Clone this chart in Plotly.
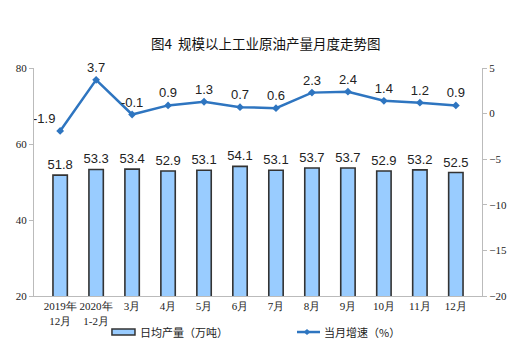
import plotly.graph_objects as go

categories = ["2019年<br>12月", "2020年<br>1-2月", "3月", "4月", "5月", "6月", "7月", "8月", "9月", "10月", "11月", "12月"]
output = [51.8, 53.3, 53.4, 52.9, 53.1, 54.1, 53.1, 53.7, 53.7, 52.9, 53.2, 52.5]
growth = [-1.9, 3.7, -0.1, 0.9, 1.3, 0.7, 0.6, 2.3, 2.4, 1.4, 1.2, 0.9]
left_ticks = [20, 40, 60, 80]
right_ticks = [-20, -15, -10, -5, 0, 5]
bar_name = "日均产量（万吨）"
line_name = "当月增速（%）"

cjk = "Noto Sans CJK SC"
bar_fill = "#99CCFF"
bar_edge = "#333333"
line_col = "#2E75C0"

line_text_pos = ["top center"] * len(growth)
line_text_pos[0] = "top left"

fig = go.Figure()
fig.add_trace(go.Bar(
    x=categories, y=output, name=bar_name,
    marker=dict(color=bar_fill, line=dict(color=bar_edge, width=1.6)),
    width=0.4,
    text=[f"{v:.1f}" for v in output], textposition="outside", constraintext="none",
    textfont=dict(family="Liberation Sans", size=13, color="#222222"),
    cliponaxis=False,
))
fig.add_trace(go.Scatter(
    x=categories, y=growth, name=line_name, yaxis="y2",
    mode="lines+markers+text",
    line=dict(color=line_col, width=2.5),
    marker=dict(symbol="diamond", size=6, color=line_col),
    text=[f"{v:.1f}" for v in growth], textposition=line_text_pos,
    textfont=dict(family="Liberation Sans", size=13, color="#222222"),
    cliponaxis=False,
))

# manual legend (paper coordinates)
shapes = [
    dict(type="rect", xref="paper", yref="paper", x0=0.174, x1=0.2254, y0=-0.171, y1=-0.1447,
         fillcolor=bar_fill, line=dict(color=bar_edge, width=1.5)),
    dict(type="line", xref="paper", yref="paper", x0=0.587, x1=0.6384, y0=-0.158, y1=-0.158,
         line=dict(color=line_col, width=2.5)),
    dict(type="path", xref="paper", yref="paper",
         path="M 0.6094 -0.145 L 0.6169 -0.158 L 0.6094 -0.171 L 0.6019 -0.158 Z",
         fillcolor=line_col, line=dict(color=line_col, width=0)),
]
annotations = [
    dict(text=bar_name, xref="paper", yref="paper", x=0.232, y=-0.158, xanchor="left", yanchor="middle",
         showarrow=False, font=dict(family=cjk, size=11, color="#222222")),
    dict(text=line_name, xref="paper", yref="paper", x=0.643, y=-0.158, xanchor="left", yanchor="middle",
         showarrow=False, font=dict(family=cjk, size=11, color="#222222")),
]

fig.update_layout(
    width=519, height=356,
    margin=dict(l=34, r=37, t=68, b=60, autoexpand=False),
    paper_bgcolor="white", plot_bgcolor="white",
    title=dict(text="图4  规模以上工业原油产量月度走势图", x=0.512, xanchor="center", y=0.876, yanchor="middle",
               font=dict(family=cjk, size=13.5, color="#111111")),
    showlegend=False,
    shapes=shapes, annotations=annotations,
    xaxis=dict(showline=True, linecolor="#BBBBBB", linewidth=1, ticks="", automargin=False,
               tickfont=dict(family="Liberation Serif", size=11, color="#222222"),
               showgrid=False),
    yaxis=dict(range=[20, 80], tickvals=left_ticks, showline=True, linecolor="#BBBBBB", ticks="outside", ticklen=4,
               tickcolor="#BBBBBB", showgrid=False, zeroline=False, automargin=False,
               tickfont=dict(family="Liberation Serif", size=11, color="#222222")),
    yaxis2=dict(range=[-20, 5], tickvals=right_ticks, overlaying="y", side="right", showline=True, linecolor="#BBBBBB",
                ticks="outside", ticklen=4, tickcolor="#BBBBBB", showgrid=False, zeroline=False, automargin=False,
                tickfont=dict(family="Liberation Serif", size=11, color="#222222")),
    bargap=0.6,
)
fig.write_html("out.html", config={"displayModeBar": False},
               post_script="document.body.style.margin='0';document.body.style.overflow='hidden';")
